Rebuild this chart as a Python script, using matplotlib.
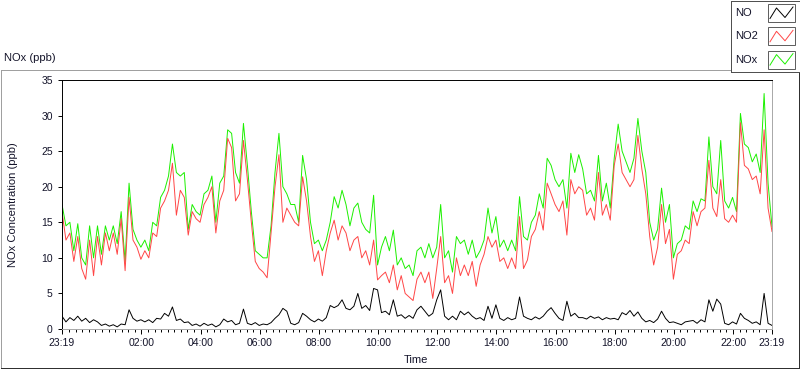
import matplotlib
matplotlib.use("Agg")
import matplotlib.pyplot as plt
from matplotlib.lines import Line2D
from matplotlib.patches import Rectangle

plt.rcParams["font.family"] = ["Liberation Sans", "DejaVu Sans"]

# readings every 8 minutes starting at 23:19
step_min = 8

no = [1.8, 1.0, 1.6, 1.2, 1.8, 1.1, 1.5, 0.9, 1.3, 1.0,
      0.5, 0.7, 0.4, 0.6, 0.3, 0.7, 0.6, 2.7, 1.5, 1.1,
      1.3, 1.0, 1.3, 0.9, 1.5, 1.4, 2.2, 1.8, 3.1, 1.2,
      1.4, 0.9, 1.0, 0.5, 0.7, 0.4, 0.8, 0.5, 0.7, 0.3,
      0.6, 1.4, 1.0, 1.2, 0.6, 0.8, 2.8, 0.8, 0.6, 0.9,
      0.5, 0.7, 0.6, 0.9, 1.5, 2.0, 2.9, 2.5, 0.8, 0.6,
      0.9, 2.2, 1.8, 1.3, 1.0, 1.4, 1.1, 1.6, 3.3, 3.0,
      3.3, 4.1, 2.9, 2.7, 3.2, 5.0, 2.9, 3.3, 2.6, 5.7,
      5.5, 2.3, 2.5, 2.0, 4.1, 1.8, 2.0, 1.5, 1.9, 1.5,
      2.7, 3.2, 2.5, 1.8, 2.2, 4.1, 5.5, 1.8, 1.3, 1.8,
      1.3, 2.5, 2.0, 2.4, 1.8, 1.4, 1.6, 1.2, 3.2, 1.5,
      3.4, 1.5, 1.2, 1.6, 1.3, 1.5, 4.5, 1.8, 1.5, 1.3,
      1.7, 1.4, 1.8, 2.5, 3.0, 2.2, 1.5, 1.2, 3.9, 1.8,
      2.2, 1.6, 1.6, 1.4, 1.8, 1.5, 1.7, 1.3, 1.6, 1.4,
      1.5, 1.3, 2.3, 2.0, 2.6, 1.8, 2.4, 1.5, 1.0, 1.2,
      0.9, 1.4, 2.5, 1.5, 0.9, 1.0, 0.8, 0.6, 1.0, 1.1,
      1.2, 0.8, 1.3, 1.0, 4.1, 2.5, 4.2, 3.5, 0.8, 0.6,
      1.0, 0.7, 2.2, 1.5, 1.2, 0.8, 1.0, 0.6, 5.0, 0.8,
      0.5]

no2 = [16.5, 12.5, 13.5, 9.5, 13, 8.5, 7, 12.5, 7.5, 13,
       9, 13.5, 11, 13.5, 10.5, 15.5, 8.2, 18.5, 12.5, 11.5,
       9.8, 11, 10, 13.5, 13, 17, 18, 19.5, 23.3, 16,
       19.5, 18.5, 13.2, 16.5, 15.5, 15, 17.5, 18.5, 20, 13.5,
       18, 19.5, 26.8, 25.5, 18, 19, 26.5, 21, 15, 9.5,
       8.5, 8, 7.2, 13.5, 20, 24.5, 15, 17, 16, 15,
       14.5, 21.4, 18, 13, 9.5, 11, 7.5, 11, 13.5, 15.3,
       12.5, 14.5, 13.5, 11, 12.5, 13, 10, 11, 9, 12.5,
       6.9, 7.5, 8, 6.5, 9, 5.5, 7.5, 5, 4.5, 4,
       7, 8, 6.5, 8, 4.3, 8.5, 13, 6.5, 7.5, 5,
       10, 7.5, 9, 7.5, 9.5, 6, 9, 10.5, 13, 11.5,
       12.5, 9.5, 10, 8.5, 10, 8.5, 15.8, 8.5, 9.7, 13,
       14, 16.5, 13.9, 20.5, 19, 17.5, 16.5, 18, 13.2, 21,
       19, 20, 19.5, 16, 17, 15.3, 22, 16, 17.5, 15.3,
       23, 26, 22, 21, 20, 21, 27.2, 22.5, 19, 13,
       9, 11.5, 17.5, 12, 14, 7, 10.5, 11, 12.5, 12,
       16.5, 14.5, 16.5, 17, 23.7, 17, 15.8, 21, 15.5, 15,
       16, 15, 29, 23, 22.5, 21, 21.5, 19, 28, 17,
       13.7]

nox = [17.5, 14.5, 15, 11, 14.8, 10, 9, 14.5, 10, 14.5,
       10.5, 14.5, 12.5, 14.5, 12, 16.5, 9.5, 20.5, 14, 12.5,
       11.5, 12.5, 11, 15, 14.5, 18.5, 19.5, 21.5, 26, 22,
       21.5, 22, 14, 17.5, 16.5, 16, 19, 19.5, 21.5, 15,
       20.5, 21.5, 28, 27.5, 22, 20.5, 28.9, 23, 16.5, 11,
       10.5, 10, 10, 14.5, 22, 27.5, 20, 19, 17.5, 17.5,
       15, 24.4, 21, 15, 12, 12.5, 11, 12.5, 15, 18.6,
       17, 19.5, 17.5, 14.5, 17, 17.7, 15, 14, 13.5, 18.8,
       9, 11.5, 13, 11, 13.9, 9, 10, 8.5, 9, 7.5,
       11, 11.5, 10, 12, 10, 11.5, 17.5, 10, 11, 8,
       13, 12, 12.5, 10.5, 12.5, 10, 11, 12.5, 17, 13.5,
       15.8, 11.5, 12.5, 11, 12.5, 11, 18.6, 13, 12.5, 15,
       16, 19, 17, 24, 23, 21, 20, 21, 17, 24.7,
       22, 24.5, 22.5, 19, 19.5, 18, 24.4, 18, 20.5, 17,
       24, 28.8, 25, 23.5, 22, 24, 29.6, 25, 22, 15,
       12.5, 14, 19.8, 15, 17.5, 10, 12, 12.5, 14.5, 14,
       18, 16.5, 18.3, 18, 27, 20, 19, 26.5, 18, 17,
       18.5, 16.5, 30.3, 26, 25.5, 23.5, 24.6, 22, 33.1, 20.5,
       14.4]

# x ticks: minutes after 23:19
tick_min = [0, 161, 281, 401, 521, 641, 761, 881, 1001, 1121, 1241, 1361, 1440]
tick_lbl = ["23:19", "02:00", "04:00", "06:00", "08:00", "10:00", "12:00",
            "14:00", "16:00", "18:00", "20:00", "22:00", "23:19"]

W, H = 800, 369
fig = plt.figure(figsize=(W / 100, H / 100), dpi=100)
fig.patch.set_facecolor("white")


def px(x, y):
    return x / W, 1 - y / H


txtc = "#14142a"

ax = fig.add_axes([62 / W, 40 / H, 710 / W, 249 / H])
t = [i * step_min for i in range(len(no))]
lw = 0.7
ax.plot(t, nox, color="#1cf000", lw=lw)
ax.plot(t, no2, color="#ff4646", lw=lw)
ax.plot(t, no, color="black", lw=lw)

ax.set_xlim(0, 1440)
ax.set_ylim(0, 35)
ax.set_yticks(range(0, 36, 5))
ax.set_xticks(tick_min)
ax.set_xticklabels(tick_lbl)
minor = [161 + k * 120 / 9 for k in range(-12, 96)]
ax.set_xticks([m for m in minor if 0 < m < 1440 and m not in tick_min], minor=True)
ax.tick_params(axis="both", labelsize=7.5, colors="black", labelcolor=txtc)
ax.tick_params(axis="y", length=3.2, width=0.7, pad=3.5)
ax.tick_params(axis="x", which="major", length=3.8, width=0.7, pad=3)
ax.tick_params(axis="x", which="minor", length=2.2, width=0.7)
ax.spines["left"].set_color("black")
ax.spines["top"].set_color("black")
ax.spines["bottom"].set_color("#a8a8a8")
ax.spines["right"].set_color("#a8a8a8")
for s in ax.spines.values():
    s.set_linewidth(0.7)

fig.text(*px(13, 205), "NOx Concentration (ppb)", rotation=90, ha="center",
         va="center", fontsize=8, color=txtc)
fig.text(*px(416, 360), "Time", ha="center", va="center", fontsize=8, color=txtc)
fig.text(*px(4, 58), "NOx (ppb)", ha="left", va="center", fontsize=8, color=txtc)


# outer panel frame
def seg(x0, y0, x1, y1, c, lw=0.72):
    a, b = px(x0, y0)
    c2, d = px(x1, y1)
    fig.add_artist(Line2D([a, c2], [b, d], color=c, lw=lw))


seg(1, 69.5, 730, 69.5, "#a0a0a0")
seg(1, 69.5, 1, 367.5, "#a0a0a0")
seg(1, 367.5, 798.5, 367.5, "#303030")
seg(798.5, 72, 798.5, 367.5, "#303030")

# legend box
seg(730.5, 0.5, 730.5, 71.5, "#505050")
seg(730.5, 71.5, 799.5, 71.5, "#505050")
seg(799.5, 0.5, 799.5, 71.5, "#505050")
seg(730.5, 0.5, 799.5, 0.5, "#505050")

names = ["NO", "NO2", "NOx"]
colors = ["black", "#ff4646", "#1cf000"]
for k, (nm, c) in enumerate(zip(names, colors)):
    yc = 13 + k * 23.3
    fig.text(*px(735, yc), nm, ha="left", va="center", fontsize=8, color=txtc)
    x0, y0 = px(768, yc - 9)
    x1, y1 = px(795, yc + 9)
    fig.add_artist(Rectangle((x0, y1), x1 - x0, y0 - y1, fill=False,
                             edgecolor="#606060", lw=0.72))
    xs = [770, 776.5, 785, 793]
    ys = [yc + 5.5, yc - 5, yc + 4.5, yc - 6]
    fig.add_artist(Line2D([x / W for x in xs], [1 - y / H for y in ys],
                          color=c, lw=0.7))

fig.savefig("out.png", dpi=100, facecolor="white")
